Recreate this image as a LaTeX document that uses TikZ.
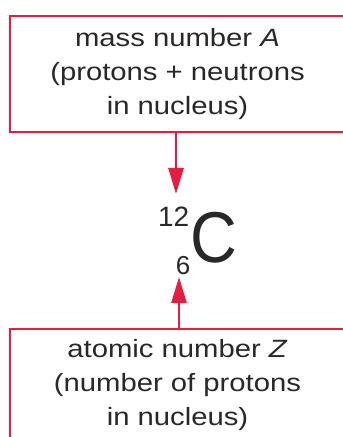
\documentclass[tikz,border=0pt]{standalone}
\usepackage{fontspec}
\setmainfont{Liberation Sans}
\newfontfamily\boxfont{Liberation Sans}[FakeStretch=1.17]
\newfontfamily\symfont{Liberation Sans}[FakeStretch=0.9]
\usetikzlibrary{arrows.meta}
\definecolor{boxred}{RGB}{232,28,64}
\definecolor{txt}{RGB}{40,40,40}
\tikzset{
  infobox/.style={draw=boxred, line width=2pt, rectangle, align=center,
    inner sep=0pt, text=txt,
    font=\boxfont\fontsize{25}{34}\selectfont},
  pointer/.style={draw=boxred, line width=2.6pt,
    -{Triangle[length=26pt,width=15pt]}},
  iso/.style={inner sep=0pt, text=txt}
}
\begin{document}
\begin{tikzpicture}[x=1pt,y=1pt]
\useasboundingbox (0,0) rectangle (343,437);
\clip (0,0) rectangle (343,437);
\node[infobox, minimum width=335pt, minimum height=116pt] (top) at (177.5,363)
  {mass number \textit{A}\\(protons + neutrons\\in nucleus)};
\node[infobox, minimum width=335pt, minimum height=112pt] (bot) at (177.5,52)
  {atomic number \textit{Z}\\(number of protons\\in nucleus)};
\node[iso, anchor=base west, font=\symfont\fontsize{72}{72}\selectfont] (C) at (190,174) {C};
\node[iso, anchor=base east, font=\fontsize{28}{28}\selectfont] (A) at (189.5,210) {12};
\node[iso, anchor=base east, font=\fontsize{26}{26}\selectfont] (Z) at (190.5,162) {6};
\coordinate (tip1) at (176,243);
\coordinate (tip2) at (179,160);
\draw[pointer] (top.south -| tip1) -- (tip1);
\draw[pointer] (bot.north -| tip2) -- (tip2);
\end{tikzpicture}
\end{document}
